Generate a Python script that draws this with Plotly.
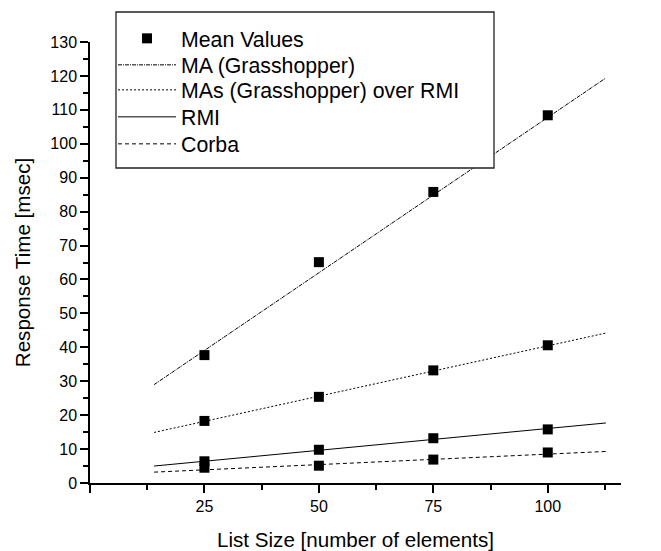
import plotly.graph_objects as go

# ---- data ----
list_sizes = [25, 50, 75, 100]
ma_values = [37.7, 65.1, 85.8, 108.4]          # MA (Grasshopper)
mas_values = [18.3, 25.4, 33.2, 40.6]          # MAs (Grasshopper) over RMI
rmi_values = [6.4, 9.8, 13.2, 15.8]            # RMI
corba_values = [4.5, 5.1, 6.9, 9.0]            # Corba

# fitted straight lines: x extent and y at both ends
fit_x = [14, 112.7]
ma_fit = [29.0, 119.4]
mas_fit = [14.9, 44.2]
rmi_fit = [5.0, 17.7]
corba_fit = [3.2, 9.3]

x_tick_vals = [0, 25, 50, 75, 100]
x_tick_text = ["", "25", "50", "75", "100"]
y_tick_vals = list(range(0, 131, 10))

FONT = "Liberation Sans, Arial, sans-serif"

W, H = 661, 551
PLOT_L, PLOT_R, PLOT_T, PLOT_B = 90, 621, 42, 483
L, T, R, B = PLOT_L, PLOT_T, W - PLOT_R, H - PLOT_B
pw, ph = PLOT_R - PLOT_L, PLOT_B - PLOT_T


def px_x(px):
    return (px - PLOT_L) / pw


def px_y(py):
    return (PLOT_B - py) / ph


fig = go.Figure()

all_x = list_sizes * 4
all_y = ma_values + mas_values + rmi_values + corba_values

fits = [
    ("MA (Grasshopper)", ma_fit, "4px,1px,1px,1px"),
    ("MAs (Grasshopper) over RMI", mas_fit, "2px,2px"),
    ("RMI", rmi_fit, "solid"),
    ("Corba", corba_fit, "4px,3px"),
]

row_y = [38.5, 65, 90, 117, 144]
legend_names = ["legend", "legend2", "legend3", "legend4", "legend5"]

fig.add_trace(go.Scatter(
    x=all_x, y=all_y, mode="markers", name="Mean Values",
    marker=dict(symbol="square", size=10, color="black"),
    legend=legend_names[0],
))
for i, (name, ys, dash) in enumerate(fits):
    fig.add_trace(go.Scatter(
        x=fit_x, y=ys, mode="lines", name=name,
        line=dict(color="black", width=1, dash=dash),
        legend=legend_names[i + 1],
    ))

fig.add_shape(
    type="rect", xref="paper", yref="paper",
    x0=px_x(116), x1=px_x(494), y0=px_y(168), y1=px_y(12),
    line=dict(color="#222", width=1.3), fillcolor="white", layer="above",
)

legend_layout = {}
for lname, ry in zip(legend_names, row_y):
    legend_layout[lname] = dict(
        x=px_x(113), y=px_y(ry), xanchor="left", yanchor="middle",
        bgcolor="rgba(0,0,0,0)", borderwidth=0,
        font=dict(family=FONT, size=21.3, color="black"),
        itemwidth=58,
    )

fig.update_layout(
    width=W, height=H,
    margin=dict(l=L, r=R, t=T, b=B, autoexpand=False),
    paper_bgcolor="white", plot_bgcolor="white",
    font=dict(family=FONT, color="black", size=16),
    showlegend=True,
    xaxis=dict(
        range=[0, 116], showgrid=False, zeroline=False, automargin=False,
        showline=True, linecolor="black", linewidth=1.5,
        ticks="outside", ticklen=8, tickwidth=1.5, tickcolor="black",
        tickvals=x_tick_vals, ticktext=x_tick_text,
        tickfont=dict(size=16),
        minor=dict(dtick=12.5, tick0=0, ticks="outside", ticklen=5,
                   tickwidth=1.5, tickcolor="black", showgrid=False),
        title=dict(text="List Size [number of elements]",
                   font=dict(size=20.6), standoff=22),
    ),
    yaxis=dict(
        range=[0, 130], showgrid=False, zeroline=False, automargin=False,
        showline=True, linecolor="black", linewidth=1.5,
        ticks="outside", ticklen=8, tickwidth=1.5, tickcolor="black",
        tickvals=y_tick_vals, tickfont=dict(size=16),
        minor=dict(dtick=5, tick0=0, ticks="outside", ticklen=5,
                   tickwidth=1.5, tickcolor="black", showgrid=False),
        title=dict(text="Response Time [msec]",
                   font=dict(size=20.6), standoff=14),
    ),
    **legend_layout,
)

fig.write_html(
    "out.html",
    config={"displayModeBar": False},
    post_script="document.body.style.margin='0';document.body.style.overflow='hidden';",
)
